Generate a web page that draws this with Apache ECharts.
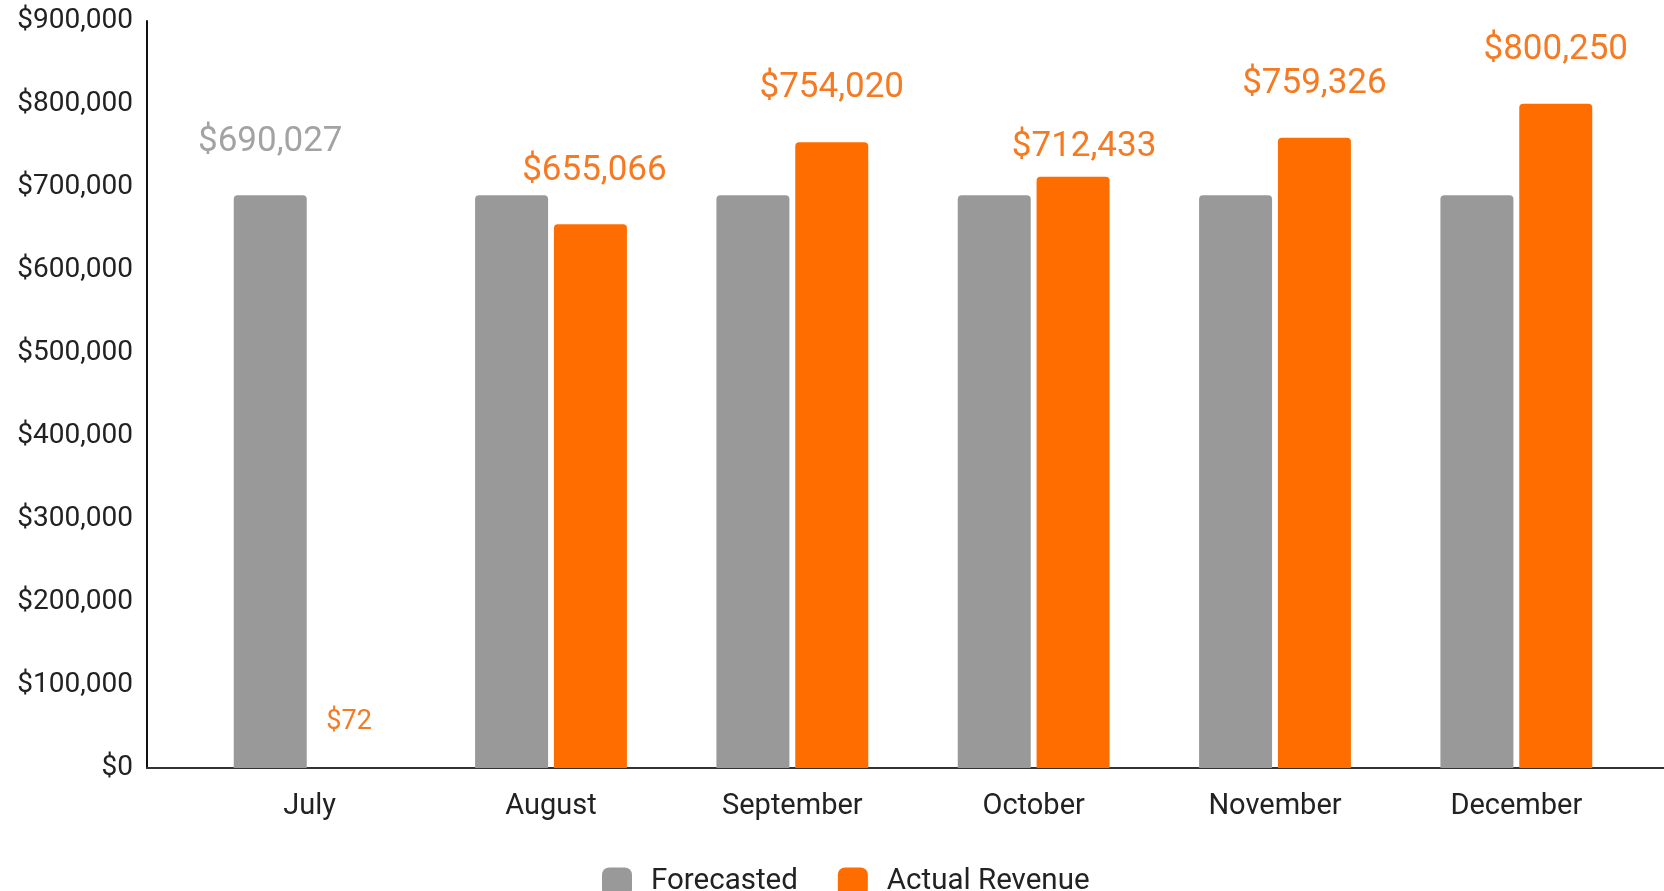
<!DOCTYPE html>
<html>
<head>
<meta charset="utf-8">
<script src="https://cdn.jsdelivr.net/npm/echarts@6/dist/echarts.min.js"></script>
<style>
  html, body { margin: 0; padding: 0; background: #fff; }
  #content { width: 1664px; height: 891px; }
</style>
</head>
<body>
<div id="content"></div>
<script>
var months = ['July', 'August', 'September', 'October', 'November', 'December']
var forecasted = [690027, 690027, 690027, 690027, 690027, 690027]
var actualRevenue = [72, 655066, 754020, 712433, 759326, 800250]
var yTicks = [0, 100000, 200000, 300000, 400000, 500000, 600000, 700000, 800000, 900000]

var money = v => '$' + Number(v).toLocaleString('en-US')

var chartDom = document.getElementById('content')
var myChart = echarts.init(chartDom)
var option

// only the first forecasted bar carries a label
var forecastData = forecasted.map((v, i) => ({
  value: v,
  label: { show: i === 0 }
}))

// a couple of labels sit a little off, like in the original
var labelTweaks = {
  0: { fontSize: 27, distance: 32 },
  1: { offset: [4, 0] },
  3: { distance: 12, offset: [11, 0] }
}
var actualData = actualRevenue.map((v, i) => (
  labelTweaks[i] ? { value: v, label: labelTweaks[i] } : { value: v }
))

option = {
  textStyle: { fontFamily: 'Roboto' },
  animation: false,
  grid: [
    { left: 189, right: 27, top: 21, bottom: 123 },
    { left: 147, right: 0, top: 21, bottom: 123 }
  ],
  xAxis: [
    {
      type: 'category',
      gridIndex: 0,
      data: months,
      axisLine: { show: false },
      axisTick: { show: false },
      axisLabel: { color: '#222', fontSize: 29, margin: 24 }
    },
    {
      type: 'value',
      gridIndex: 1,
      min: 0,
      max: 1,
      axisLine: { show: true, onZero: false, lineStyle: { color: '#333', width: 2 } },
      axisTick: { show: false },
      axisLabel: { show: false },
      splitLine: { show: false }
    }
  ],
  yAxis: [
    {
      type: 'value',
      gridIndex: 0,
      min: yTicks[0],
      max: yTicks[yTicks.length - 1],
      interval: 100000,
      axisLine: { show: false },
      axisTick: { show: false },
      axisLabel: { show: false },
      splitLine: { show: false }
    },
    {
      type: 'value',
      gridIndex: 1,
      min: yTicks[0],
      max: yTicks[yTicks.length - 1],
      interval: 100000,
      axisLine: { show: true, lineStyle: { color: '#111', width: 2 } },
      axisTick: { show: false },
      axisLabel: { color: '#222', fontSize: 28, margin: 14, formatter: money },
      splitLine: { show: false }
    }
  ],
  legend: {
    data: ['Forecasted', 'Actual Revenue'],
    left: 597,
    top: 862,
    icon: 'roundRect',
    itemWidth: 30,
    itemHeight: 29,
    itemGap: 40,
    textStyle: { color: '#222', fontSize: 29.5, padding: [0, 0, 0, 14] }
  },
  series: [
    {
      name: 'Forecasted',
      type: 'bar',
      xAxisIndex: 0,
      yAxisIndex: 0,
      barWidth: 73,
      barGap: '8%',
      data: forecastData,
      itemStyle: { color: '#999999', borderRadius: [4, 4, 0, 0] },
      label: {
        position: 'top',
        distance: 36,
        color: '#a3a3a3',
        fontSize: 35,
        formatter: p => money(p.value)
      }
    },
    {
      name: 'Actual Revenue',
      type: 'bar',
      xAxisIndex: 0,
      yAxisIndex: 0,
      barWidth: 73,
      barGap: '8%',
      data: actualData,
      itemStyle: { color: '#ff6d01', borderRadius: [4, 4, 0, 0] },
      label: {
        show: true,
        position: 'top',
        distance: 36,
        color: '#f57a22',
        fontSize: 35,
        formatter: p => money(p.value)
      }
    }
  ]
}

option && myChart.setOption(option)
</script>
</body>
</html>
